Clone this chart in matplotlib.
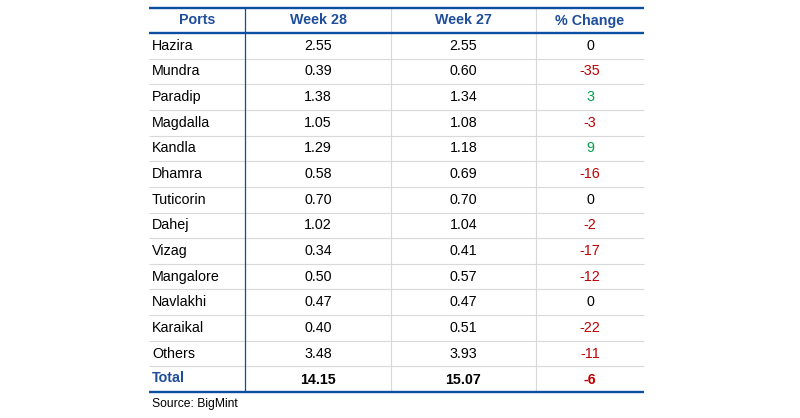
import matplotlib.pyplot as plt

plt.rcParams['font.family'] = ['Liberation Sans', 'DejaVu Sans']

headers = ['Ports', 'Week 28', 'Week 27', '% Change']
ports = ['Hazira', 'Mundra', 'Paradip', 'Magdalla', 'Kandla', 'Dhamra', 'Tuticorin',
         'Dahej', 'Vizag', 'Mangalore', 'Navlakhi', 'Karaikal', 'Others']
week28 = [2.55, 0.39, 1.38, 1.05, 1.29, 0.58, 0.70, 1.02, 0.34, 0.50, 0.47, 0.40, 3.48]
week27 = [2.55, 0.60, 1.34, 1.08, 1.18, 0.69, 0.70, 1.04, 0.41, 0.57, 0.47, 0.51, 3.93]
change = [0, -35, 3, -3, 9, -16, 0, -2, -17, -12, 0, -22, -11]
total28 = 14.15
total27 = 15.07
total_change = -6
source = 'Source: BigMint'

BLUE = '#0B4EA2'
HEAD_TXT = '#1F4E9A'
GRID = '#D9D9D9'
RED = '#C00000'
GREEN = '#00A14B'
FS = 10.3


def change_color(v):
    if v < 0:
        return RED
    if v > 0:
        return GREEN
    return 'black'


fig = plt.figure(figsize=(8, 4.18), dpi=100)
ax = fig.add_axes([0, 0, 1, 1])
ax.set_xlim(0, 800)
ax.set_ylim(418, 0)
ax.axis('off')

# column edges in pixels
cols = [149, 245, 391, 536, 644]
top = 8
head_bot = 33
bottom = 392
n_rows = len(ports) + 1
row_h = (bottom - head_bot) / n_rows
centers = [(cols[i] + cols[i + 1]) / 2 for i in range(4)]

# header
for i, h in enumerate(headers):
    ax.text(centers[i], (top + head_bot) / 2, h, ha='center', va='center',
            fontsize=FS, fontweight='bold', color=HEAD_TXT)

# body rows
for r, name in enumerate(ports):
    yc = head_bot + row_h * (r + 0.5)
    ax.text(cols[0] + 3, yc, name, ha='left', va='center', fontsize=FS, color='black')
    ax.text(centers[1], yc, f'{week28[r]:.2f}', ha='center', va='center', fontsize=FS)
    ax.text(centers[2], yc, f'{week27[r]:.2f}', ha='center', va='center', fontsize=FS)
    ax.text(centers[3], yc, f'{change[r]}', ha='center', va='center', fontsize=FS,
            color=change_color(change[r]))

# total row
yc = head_bot + row_h * (n_rows - 0.5)
ax.text(cols[0] + 3, yc - 1, 'Total', ha='left', va='center', fontsize=FS,
        fontweight='bold', color=HEAD_TXT)
ax.text(centers[1], yc + 1, f'{total28:.2f}', ha='center', va='center', fontsize=FS,
        fontweight='bold')
ax.text(centers[2], yc + 1, f'{total27:.2f}', ha='center', va='center', fontsize=FS,
        fontweight='bold')
ax.text(centers[3], yc + 1, f'{total_change}', ha='center', va='center', fontsize=FS,
        fontweight='bold', color=change_color(total_change))

# grid lines
for r in range(1, n_rows):
    y = head_bot + row_h * r
    ax.plot([cols[0], cols[-1]], [y, y], color=GRID, lw=0.8, solid_capstyle='butt')
for x in cols[2:4]:
    ax.plot([x, x], [top, bottom], color=GRID, lw=0.8, solid_capstyle='butt')
ax.plot([cols[1], cols[1]], [top, bottom], color=BLUE, lw=0.9, solid_capstyle='butt')

for y in (top, head_bot, bottom):
    ax.plot([cols[0], cols[-1]], [y, y], color=BLUE, lw=1.7, solid_capstyle='butt')

ax.text(cols[0] + 3, bottom + 12, source, ha='left', va='center', fontsize=8.7,
        color='black')

fig.savefig('out.png', dpi=100)
